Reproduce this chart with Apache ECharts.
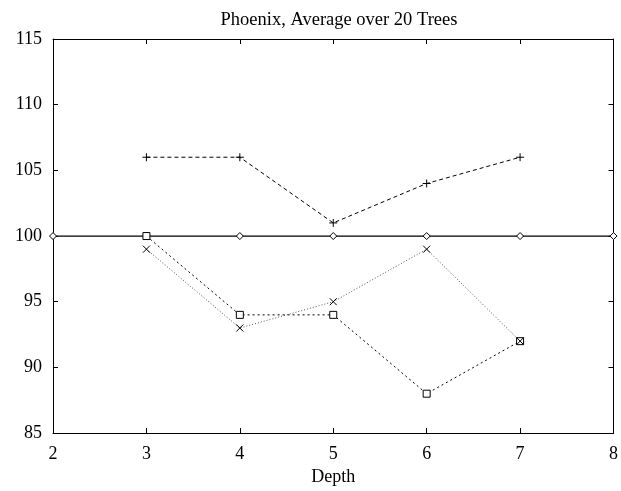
<!DOCTYPE html>
<html>
<head>
<meta charset="utf-8">
<script src="https://cdn.jsdelivr.net/npm/echarts@6/dist/echarts.min.js"></script>
<style>
  html, body { margin: 0; padding: 0; background: #fff; }
  #chart { width: 621px; height: 491px; }
</style>
</head>
<body>
<div id="chart"></div>
<script>
// Depth values and per-series results
const depthsA = [3, 4, 5, 6, 7];
const depthsBase = [2, 3, 4, 5, 6, 7, 8];
const plusValues = [106, 106, 101, 104, 106];
const baseValues = [100, 100, 100, 100, 100, 100, 100];
const squareValues = [100, 94, 94, 88, 92];
const crossValues = [99, 93, 95, 99, 92];

const zip = (xs, ys) => xs.map((x, i) => [x, ys[i]]);

const FONT = 'Liberation Serif';
const plusSym = 'path://M0,5L10,5M5,0L5,10';
const crossSym = 'path://M0,0L10,10M10,0L0,10';

const chart = echarts.init(document.getElementById('chart'), null, { renderer: 'canvas' });

const baseAxisX = {
  type: 'value', min: 2, max: 8, interval: 1,
  axisLine: { show: true, lineStyle: { color: '#000', width: 1 } },
  axisTick: { show: true, inside: true, length: 5, lineStyle: { color: '#000' } },
  splitLine: { show: false }
};
const baseAxisY = {
  type: 'value', min: 85, max: 115, interval: 5,
  axisLine: { show: true, lineStyle: { color: '#000', width: 1 } },
  axisTick: { show: true, inside: true, length: 5, lineStyle: { color: '#000' } },
  splitLine: { show: false }
};

chart.setOption({
  animation: false,
  backgroundColor: '#fff',
  title: {
    text: 'Phoenix, Average over 20 Trees',
    left: 334, top: 6, textAlign: 'center',
    textStyle: { fontFamily: FONT, fontSize: 18.5, fontWeight: 'normal', color: '#000' }
  },
  grid: { left: 53, right: 7, top: 39, bottom: 53 },
  xAxis: [
    Object.assign({}, baseAxisX, {
      position: 'bottom',
      name: 'Depth', nameLocation: 'middle', nameGap: 34,
      nameTextStyle: { fontFamily: FONT, fontSize: 18, color: '#000' },
      axisLabel: { fontFamily: FONT, fontSize: 18, color: '#000', margin: 12 }
    }),
    Object.assign({}, baseAxisX, { position: 'top', axisLabel: { show: false } })
  ],
  yAxis: [
    Object.assign({}, baseAxisY, {
      position: 'left',
      axisLabel: { fontFamily: FONT, fontSize: 18, color: '#000', margin: 11 }
    }),
    Object.assign({}, baseAxisY, { position: 'right', axisLabel: { show: false } })
  ],
  series: [
    {
      type: 'line', data: zip(depthsA, plusValues),
      symbol: plusSym, symbolSize: 8,
      itemStyle: { color: 'transparent', borderColor: '#000', borderWidth: 1 },
      lineStyle: { color: '#000', width: 1, type: [4, 3] }
    },
    {
      type: 'line', data: zip(depthsBase, baseValues),
      symbol: 'diamond', symbolSize: 7,
      itemStyle: { color: '#fff', borderColor: '#000', borderWidth: 1 },
      lineStyle: { color: '#000', width: 1.2 }
    },
    {
      type: 'line', data: zip(depthsA, squareValues),
      symbol: 'rect', symbolSize: 7,
      itemStyle: { color: '#fff', borderColor: '#000', borderWidth: 1 },
      lineStyle: { color: '#000', width: 1, type: [2, 3] }
    },
    {
      type: 'line', data: zip(depthsA, crossValues),
      symbol: crossSym, symbolSize: 7,
      itemStyle: { color: 'transparent', borderColor: '#000', borderWidth: 1 },
      lineStyle: { color: '#555', width: 1, type: [1, 2] }
    }
  ]
});
</script>
</body>
</html>
